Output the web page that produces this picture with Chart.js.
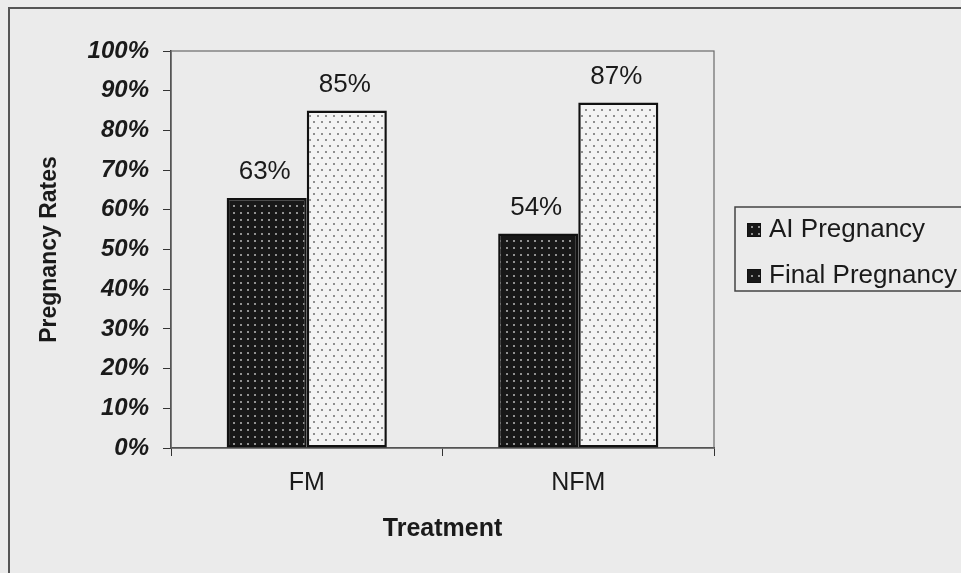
<!DOCTYPE html>
<html>
<head>
<meta charset="utf-8">
<script src="https://cdn.jsdelivr.net/npm/chart.js@4.4.1/dist/chart.umd.min.js"></script>
<style>
  html, body { margin: 0; padding: 0; background: #ebebeb; }
  #wrap { width: 961px; height: 573px; }
</style>
</head>
<body>
<div id="wrap"><canvas id="grafico" width="961" height="573"></canvas></div>
<script>
// dados do grafico
const categorias = ["FM", "NFM"];
const seriesNomes = ["AI Pregnancy", "Final Pregnancy"];
const aiPregnancy = [63, 54];
const finalPregnancy = [85, 87];
const yMin = 0;
const yMax = 100;
const yPasso = 10;

const FONTE = "'Liberation Sans', Arial, sans-serif";
const TEXTO = "#1a1a1a";

function criarPadrao(fundo, ponto, w, h, pontos) {
  const c = document.createElement("canvas");
  c.width = w;
  c.height = h;
  const g = c.getContext("2d");
  g.fillStyle = fundo;
  g.fillRect(0, 0, w, h);
  g.fillStyle = ponto;
  pontos.forEach(p => g.fillRect(p[0], p[1], 2, 2));
  return g.createPattern(c, "repeat");
}

const padraoEscuro = criarPadrao("#181818", "#929292", 7, 7, [[2, 2]]);
const padraoClaro = criarPadrao("#f3f3f3", "#8e8e8e", 8, 12, [[1, 1], [5, 7]]);

// fundo e moldura externa
const pluginFundo = {
  id: "fundo",
  beforeDraw(chart) {
    const ctx = chart.ctx;
    ctx.save();
    ctx.fillStyle = "#ebebeb";
    ctx.fillRect(0, 0, chart.width, chart.height);
    ctx.strokeStyle = "#555";
    ctx.lineWidth = 2;
    ctx.strokeRect(9, 8, 1000, 620);
    ctx.restore();
  },
  beforeDatasetsDraw(chart) {
    const a = chart.chartArea;
    const ctx = chart.ctx;
    ctx.save();
    ctx.strokeStyle = "#6a6a6a";
    ctx.lineWidth = 1.2;
    ctx.strokeRect(a.left, a.top, a.right - a.left, a.bottom - a.top);
    ctx.restore();
  }
};

// rotulos de valor acima das barras
const pluginRotulos = {
  id: "rotulos",
  afterDatasetsDraw(chart) {
    const ctx = chart.ctx;
    ctx.save();
    ctx.font = "26px " + FONTE;
    ctx.fillStyle = TEXTO;
    ctx.textAlign = "center";
    ctx.textBaseline = "alphabetic";
    chart.data.datasets.forEach((ds, i) => {
      chart.getDatasetMeta(i).data.forEach((bar, j) => {
        ctx.fillText(ds.data[j] + "%", bar.x - 2, bar.y - 19);
      });
    });
    ctx.restore();
  }
};

// legenda desenhada a mao (as duas amostras aparecem escuras no original)
const pluginLegenda = {
  id: "legendaCaixa",
  afterDraw(chart) {
    const ctx = chart.ctx;
    ctx.save();
    ctx.strokeStyle = "#444";
    ctx.lineWidth = 1.5;
    ctx.strokeRect(735, 207, 260, 84);
    ctx.font = "26px " + FONTE;
    ctx.textAlign = "left";
    ctx.textBaseline = "alphabetic";
    chart.data.datasets.forEach((ds, i) => {
      const y = 223 + i * 46;
      ctx.fillStyle = padraoEscuro;
      ctx.fillRect(747, y, 14, 14);
      ctx.strokeStyle = "#111";
      ctx.lineWidth = 1;
      ctx.strokeRect(747.5, y + 0.5, 13, 13);
      ctx.fillStyle = TEXTO;
      ctx.fillText(ds.label, 769, y + 14);
    });
    ctx.restore();
  }
};

new Chart(document.getElementById("grafico"), {
  type: "bar",
  data: {
    labels: categorias,
    datasets: [
      {
        label: seriesNomes[0],
        data: aiPregnancy,
        backgroundColor: padraoEscuro,
        borderColor: "#111",
        borderWidth: 2.5,
        borderSkipped: false
      },
      {
        label: seriesNomes[1],
        data: finalPregnancy,
        backgroundColor: padraoClaro,
        borderColor: "#111",
        borderWidth: 2.5,
        borderSkipped: false
      }
    ]
  },
  options: {
    responsive: false,
    animation: false,
    devicePixelRatio: 1,
    layout: { padding: { top: 51, right: 247, bottom: 0, left: 0 } },
    datasets: { bar: { categoryPercentage: 0.59, barPercentage: 1 } },
    plugins: {
      legend: { display: false },
      tooltip: { enabled: false }
    },
    scales: {
      x: {
        grid: { drawOnChartArea: false, color: "#333", tickLength: 8, offset: true },
        border: { color: "#333", width: 1.5 },
        ticks: { color: TEXTO, padding: 12, font: { family: FONTE, size: 25 } },
        title: {
          display: true,
          text: "Treatment",
          color: TEXTO,
          font: { family: FONTE, size: 25, weight: "bold" },
          padding: { top: 0, bottom: 29 }
        },
        afterFit(scale) { scale.height = 125; }
      },
      y: {
        min: yMin,
        max: yMax,
        grid: { drawOnChartArea: false, color: "#333", tickLength: 8 },
        border: { color: "#333", width: 1.5 },
        ticks: {
          stepSize: yPasso,
          color: TEXTO,
          padding: 14,
          font: { family: FONTE, size: 24, weight: "bold", style: "italic" },
          callback: v => v + "%"
        },
        title: {
          display: true,
          text: "Pregnancy Rates",
          color: TEXTO,
          font: { family: FONTE, size: 23, weight: "bold" },
          padding: { top: 36, bottom: 0 }
        },
        afterFit(scale) { scale.width = 171; }
      }
    }
  },
  plugins: [pluginFundo, pluginRotulos, pluginLegenda]
});
</script>
</body>
</html>
